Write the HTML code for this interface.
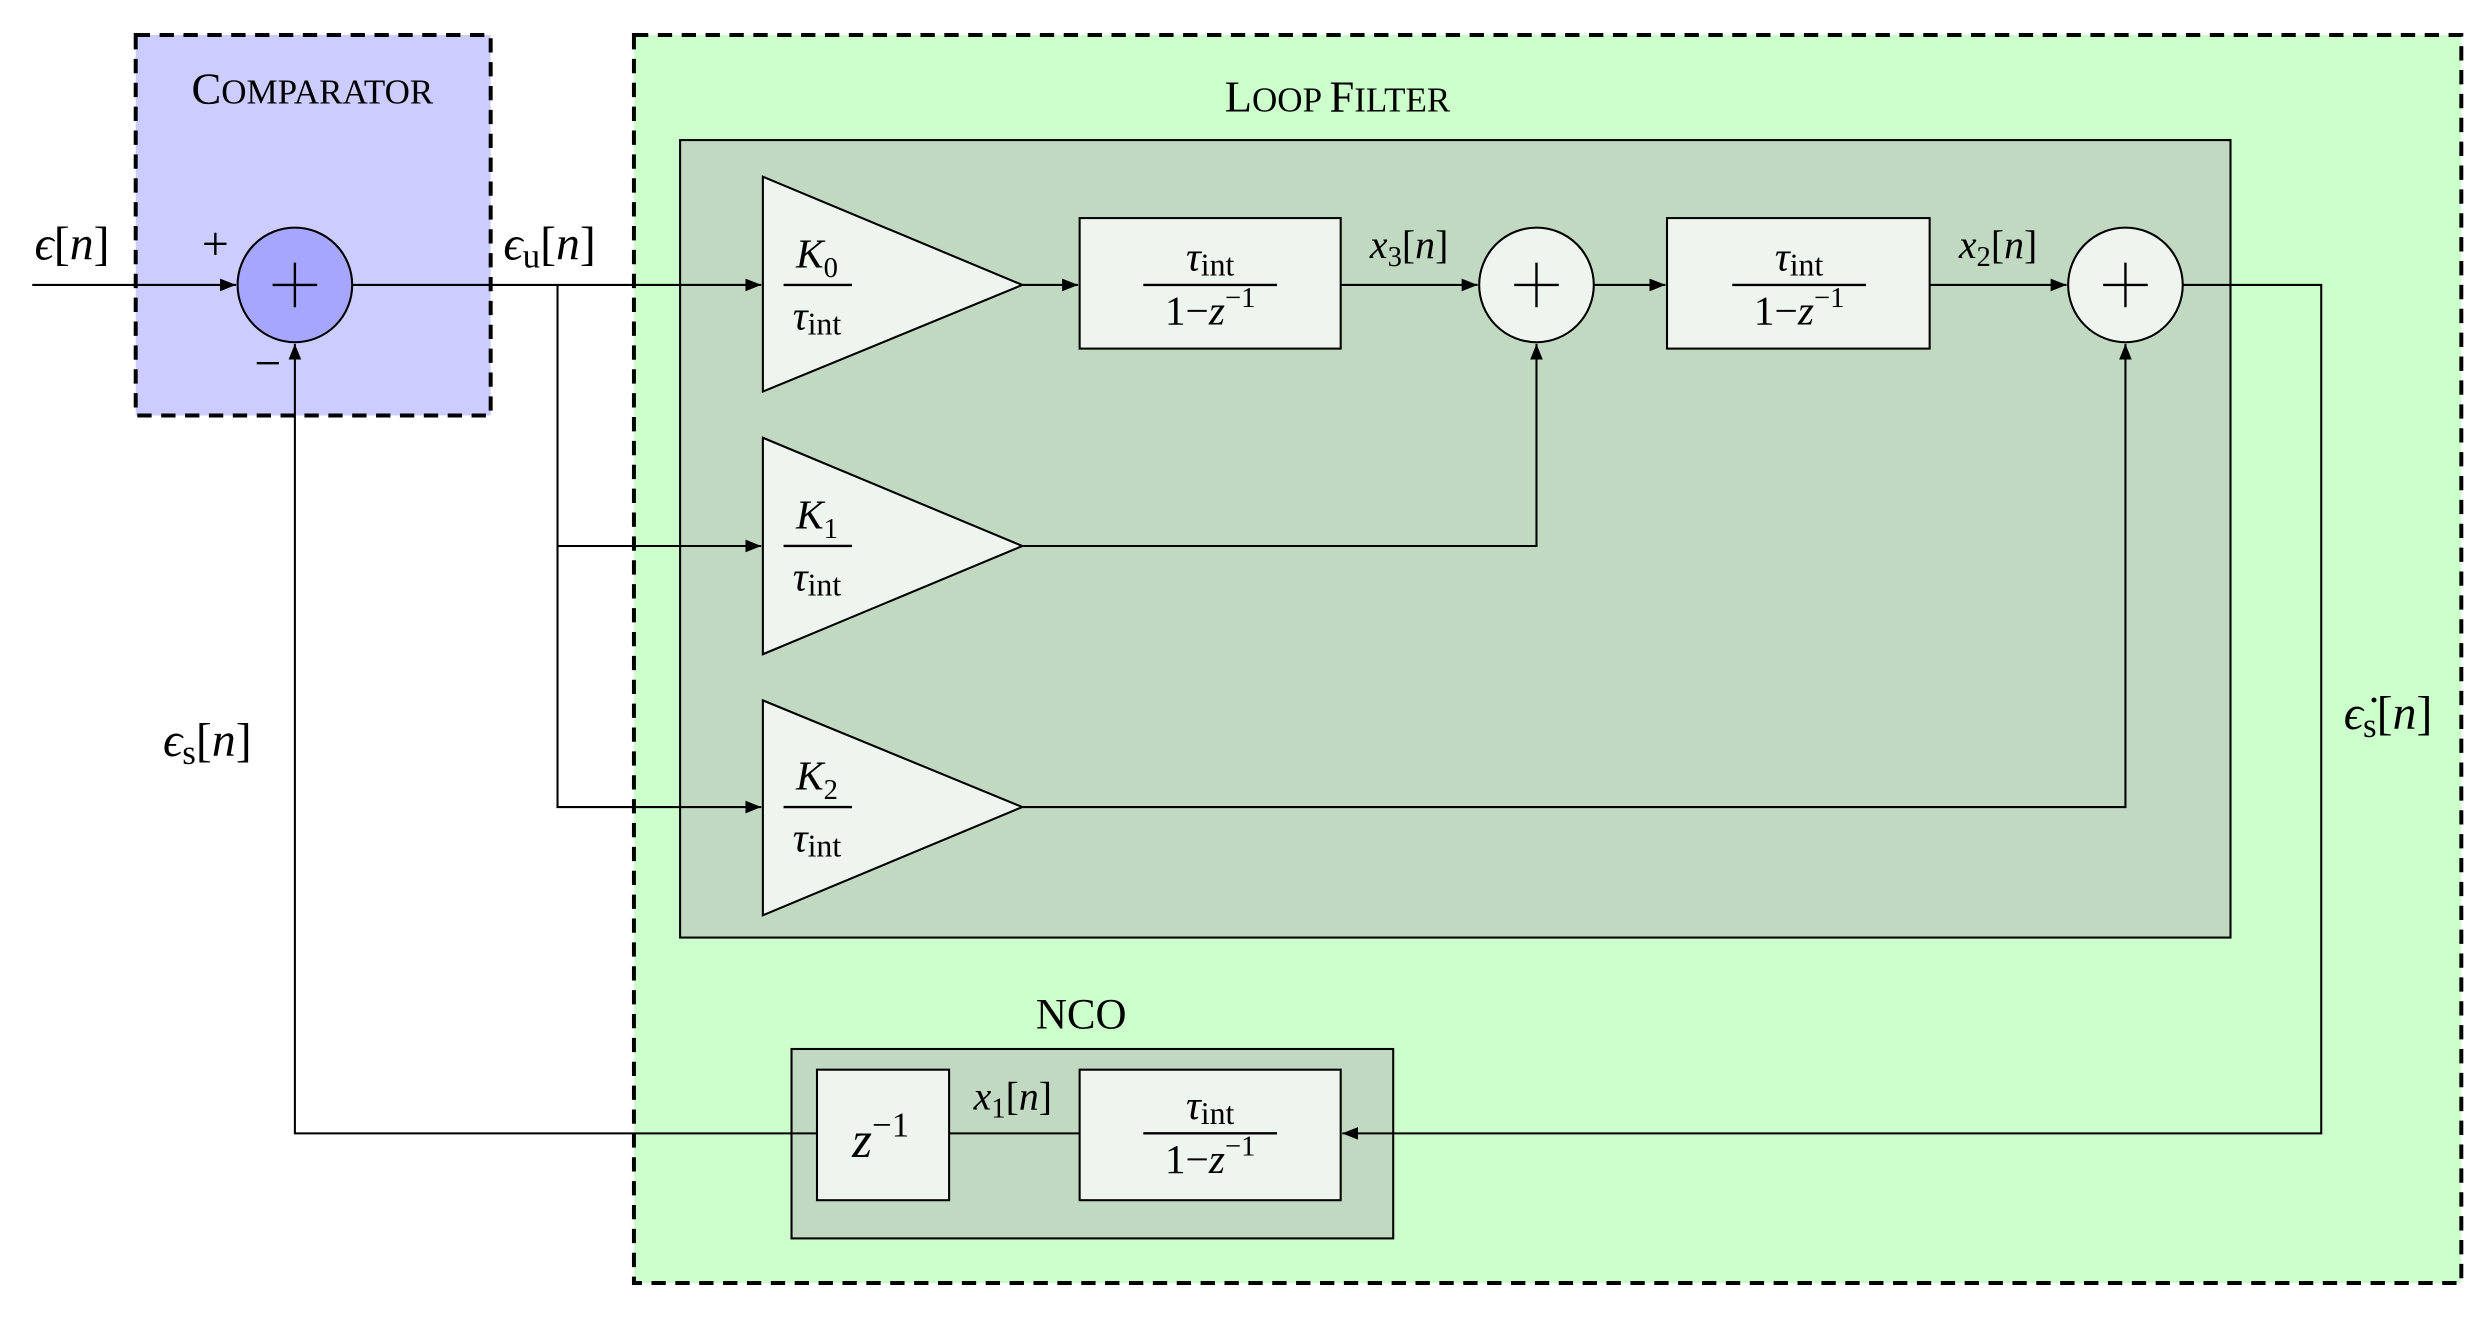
<!DOCTYPE html>
<html><head><meta charset="utf-8"><style>
html,body{margin:0;padding:0;background:#fff;}
svg{display:block;}
text{font-family:"Liberation Serif",serif;fill:#000;}
.i{font-style:italic;}
</style></head><body>
<svg width="2484" height="1318" viewBox="0 0 1560 828" xmlns="http://www.w3.org/2000/svg">
<defs>
<marker id="a" markerWidth="10" markerHeight="8" refX="10" refY="4" orient="auto" markerUnits="userSpaceOnUse">
<path d="M0,0 L10,4 L0,8 Z" fill="#000"/></marker>
</defs>
<rect x="85" y="22" width="223" height="239" fill="#ccccff" stroke="#000" stroke-width="2.5" stroke-dasharray="9,6"/>
<rect x="398" y="22" width="1148" height="784" fill="#ccffcc" stroke="#000" stroke-width="2.5" stroke-dasharray="9,6"/>
<text x="196" y="65" text-anchor="middle" font-size="28">C<tspan font-size="22">OMPARATOR</tspan></text>
<text x="840" y="70" text-anchor="middle" font-size="28">L<tspan font-size="22">OOP </tspan>F<tspan font-size="22">ILTER</tspan></text>
<rect x="427" y="88" width="974" height="501" fill="#c1d8c1" stroke="#000" stroke-width="1.3"/>
<text x="679" y="646" text-anchor="middle" font-size="27">NCO</text>
<rect x="497" y="659" width="378" height="119" fill="#c1d8c1" stroke="#000" stroke-width="1.3"/>

<g stroke="#000" stroke-width="1.3" fill="none">
<line x1="20" y1="179" x2="148" y2="179" marker-end="url(#a)"/>
<line x1="221" y1="179" x2="478" y2="179" marker-end="url(#a)"/>
<polyline points="350,179 350,507 478,507" marker-end="url(#a)"/>
<line x1="350" y1="343" x2="478" y2="343" marker-end="url(#a)"/>
<line x1="642" y1="179" x2="677" y2="179" marker-end="url(#a)"/>
<line x1="842" y1="179" x2="928" y2="179" marker-end="url(#a)"/>
<line x1="1001" y1="179" x2="1046" y2="179" marker-end="url(#a)"/>
<line x1="1212" y1="179" x2="1298" y2="179" marker-end="url(#a)"/>
<polyline points="642,343 965,343 965,216" marker-end="url(#a)"/>
<polyline points="642,507 1335,507 1335,216" marker-end="url(#a)"/>
<polyline points="1371,179 1458,179 1458,712 843,712" marker-end="url(#a)"/>
<line x1="596" y1="712" x2="678" y2="712"/>
<polyline points="513,712 185,712 185,216" marker-end="url(#a)"/>
</g>

<circle cx="185" cy="179" r="36" fill="#a6a6ff" stroke="#000" stroke-width="1.3"/>
<circle cx="965" cy="179" r="36" fill="#eef4ee" stroke="#000" stroke-width="1.3"/>
<circle cx="1335" cy="179" r="36" fill="#eef4ee" stroke="#000" stroke-width="1.3"/>
<g stroke="#000" stroke-width="1.5">
<line x1="171" y1="179" x2="199" y2="179"/><line x1="185" y1="165" x2="185" y2="193"/>
<line x1="951" y1="179" x2="979" y2="179"/><line x1="965" y1="165" x2="965" y2="193"/>
<line x1="1321" y1="179" x2="1349" y2="179"/><line x1="1335" y1="165" x2="1335" y2="193"/>
</g>

<g fill="#eef4ee" stroke="#000" stroke-width="1.3">
<polygon points="479,111 642,179 479,246"/>
<polygon points="479,275 642,343 479,411"/>
<polygon points="479,440 642,507 479,575"/>
<rect x="678" y="137" width="164" height="82"/>
<rect x="1047" y="137" width="165" height="82"/>
<rect x="513" y="672" width="83" height="82"/>
<rect x="678" y="672" width="164" height="82"/>
</g>

<!-- gain labels -->
<g font-size="26">
<text x="513" y="168" text-anchor="middle" class="i">K<tspan font-size="18" dy="6" font-style="normal">0</tspan></text>
<text x="513" y="207" text-anchor="middle"><tspan class="i">τ</tspan><tspan font-size="20" dy="3">int</tspan></text>
<text x="513" y="332" text-anchor="middle" class="i">K<tspan font-size="18" dy="6" font-style="normal">1</tspan></text>
<text x="513" y="371" text-anchor="middle"><tspan class="i">τ</tspan><tspan font-size="20" dy="3">int</tspan></text>
<text x="513" y="496" text-anchor="middle" class="i">K<tspan font-size="18" dy="6" font-style="normal">2</tspan></text>
<text x="513" y="535" text-anchor="middle"><tspan class="i">τ</tspan><tspan font-size="20" dy="3">int</tspan></text>
</g>
<g stroke="#000" stroke-width="1.5">
<line x1="492" y1="179" x2="535" y2="179"/>
<line x1="492" y1="343" x2="535" y2="343"/>
<line x1="492" y1="507" x2="535" y2="507"/>
<line x1="718" y1="179" x2="802" y2="179"/>
<line x1="1088" y1="179" x2="1172" y2="179"/>
<line x1="718" y1="712" x2="802" y2="712"/>
</g>
<g font-size="26">
<text x="760" y="170" text-anchor="middle"><tspan class="i">τ</tspan><tspan font-size="20" dy="3">int</tspan></text>
<text x="760" y="204" text-anchor="middle">1−<tspan class="i">z</tspan><tspan font-size="18" dy="-11">−1</tspan></text>
<text x="1130" y="170" text-anchor="middle"><tspan class="i">τ</tspan><tspan font-size="20" dy="3">int</tspan></text>
<text x="1130" y="204" text-anchor="middle">1−<tspan class="i">z</tspan><tspan font-size="18" dy="-11">−1</tspan></text>
<text x="760" y="703" text-anchor="middle"><tspan class="i">τ</tspan><tspan font-size="20" dy="3">int</tspan></text>
<text x="760" y="737" text-anchor="middle">1−<tspan class="i">z</tspan><tspan font-size="18" dy="-11">−1</tspan></text>
</g>
<text x="553" y="727" text-anchor="middle" font-size="32"><tspan class="i">z</tspan><tspan font-size="22" dy="-13">−1</tspan></text>

<!-- signal labels -->
<g font-size="30">
<text x="45" y="163" text-anchor="middle"><tspan class="i">ϵ</tspan>[<tspan class="i">n</tspan>]</text>
<text x="345" y="163" text-anchor="middle"><tspan class="i">ϵ</tspan><tspan font-size="22" dy="5">u</tspan><tspan dy="-5">[</tspan><tspan class="i">n</tspan>]</text>
<text x="130" y="475" text-anchor="middle"><tspan class="i">ϵ</tspan><tspan font-size="22" dy="5">s</tspan><tspan dy="-5">[</tspan><tspan class="i">n</tspan>]</text>
<text x="1500" y="458" text-anchor="middle"><tspan class="i">ϵ̇</tspan><tspan font-size="22" dy="5">s</tspan><tspan dy="-5">[</tspan><tspan class="i">n</tspan>]</text>
<text x="135" y="163" text-anchor="middle">+</text>
<text x="168" y="238" text-anchor="middle">−</text>
</g>
<g font-size="25">
<text x="885" y="162" text-anchor="middle"><tspan class="i">x</tspan><tspan font-size="18" dy="5">3</tspan><tspan dy="-5">[</tspan><tspan class="i">n</tspan>]</text>
<text x="1255" y="162" text-anchor="middle"><tspan class="i">x</tspan><tspan font-size="18" dy="5">2</tspan><tspan dy="-5">[</tspan><tspan class="i">n</tspan>]</text>
<text x="636" y="697" text-anchor="middle"><tspan class="i">x</tspan><tspan font-size="18" dy="5">1</tspan><tspan dy="-5">[</tspan><tspan class="i">n</tspan>]</text>
</g>
</svg>
</body></html>
